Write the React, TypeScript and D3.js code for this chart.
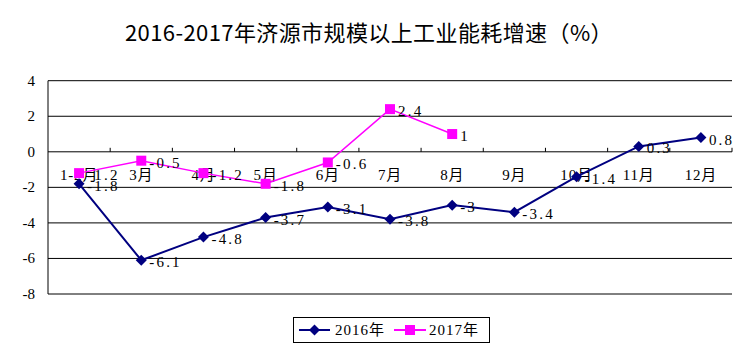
import * as d3 from "d3";

const months = ["1-2月", "3月", "4月", "5月", "6月", "7月", "8月", "9月", "10月", "11月", "12月"];
const values2016 = [-1.8, -6.1, -4.8, -3.7, -3.1, -3.8, -3, -3.4, -1.4, 0.3, 0.8];
const values2017 = [-1.2, -0.5, -1.2, -1.8, -0.6, 2.4, 1];
const yTicks = [4, 2, 0, -2, -4, -6, -8];

const W = 749;
const H = 353;
const MARGIN = { top: 80.7, right: 17, bottom: 59, left: 48 };
const NAVY = "#000080";
const MAGENTA = "#FF00FF";
const FONT = "'Liberation Serif', 'Noto Sans CJK SC', serif";

export default function App() {
  const boundsWidth = W - MARGIN.left - MARGIN.right;

  const xScale = d3
    .scaleBand()
    .domain(months)
    .range([MARGIN.left, MARGIN.left + boundsWidth]);

  const yScale = d3
    .scaleLinear()
    .domain([-8, 4])
    .range([H - MARGIN.bottom, MARGIN.top]);

  const cx = (m: string) => (xScale(m) as number) + xScale.bandwidth() / 2;

  const line = d3
    .line<number>()
    .x((_, i) => cx(months[i]))
    .y((d) => yScale(d));

  const diamond = (x: number, y: number, r: number) =>
    `M${x},${y - r}L${x + r},${y}L${x},${y + r}L${x - r},${y}Z`;

  const y0 = yScale(0);

  const label = (v: number, i: number, key: string) => (
    <text
      key={key}
      x={cx(months[i]) + 8}
      y={yScale(v) + 7}
      fontSize={15}
      fontFamily={FONT}
      letterSpacing={2.2}
    >
      {String(v)}
    </text>
  );

  return (
    <svg
      width={W}
      height={H}
      style={{ position: "absolute", left: 0, top: 0, background: "white" }}
    >
      <text
        x={369}
        y={41}
        textAnchor="middle"
        fontSize={22}
        letterSpacing={0.4}
        fontFamily="'Noto Sans CJK SC', sans-serif"
        fill="#000"
      >
        2016-2017年济源市规模以上工业能耗增速（%）
      </text>

      {/* grid */}
      {yTicks.map((t) => (
        <g key={t}>
          <line
            x1={MARGIN.left}
            x2={MARGIN.left + boundsWidth}
            y1={yScale(t)}
            y2={yScale(t)}
            stroke="#000"
            strokeWidth={1}
          />
          <text
            x={35}
            y={yScale(t) + 5}
            textAnchor="end"
            fontSize={15}
            fontFamily={FONT}
          >
            {t}
          </text>
        </g>
      ))}
      <line
        x1={MARGIN.left}
        x2={MARGIN.left}
        y1={yScale(4)}
        y2={yScale(-8)}
        stroke="#000"
      />

      {/* category axis at zero */}
      {months.map((m) => (
        <g key={m}>
          <line
            x1={(xScale(m) as number) + xScale.bandwidth()}
            x2={(xScale(m) as number) + xScale.bandwidth()}
            y1={y0}
            y2={y0 - 4}
            stroke="#000"
          />
          <text
            x={cx(m)}
            y={y0 + 28}
            textAnchor="middle"
            fontSize={15}
            letterSpacing={0.8}
            fontFamily={FONT}
          >
            {m}
          </text>
        </g>
      ))}

      {/* series */}
      <path d={line(values2016) ?? ""} fill="none" stroke={NAVY} strokeWidth={2} />
      <path d={line(values2017) ?? ""} fill="none" stroke={MAGENTA} strokeWidth={1.5} />

      {values2016.map((v, i) => (
        <path key={"a" + i} d={diamond(cx(months[i]), yScale(v), 5.5)} fill={NAVY} />
      ))}
      {values2017.map((v, i) => (
        <rect
          key={"b" + i}
          x={cx(months[i]) - 5}
          y={yScale(v) - 5}
          width={10}
          height={10}
          fill={MAGENTA}
        />
      ))}

      {values2016.map((v, i) => label(v, i, "la" + i))}
      {values2017.map((v, i) => label(v, i, "lb" + i))}

      {/* legend */}
      <rect x={293.5} y={317.5} width={196} height={25} fill="white" stroke="#000" />
      <line x1={299} x2={330} y1={330} y2={330} stroke={NAVY} strokeWidth={2} />
      <path d={diamond(314.5, 330, 5.5)} fill={NAVY} />
      <text x={335} y={335} fontSize={15} letterSpacing={1} fontFamily={FONT}>
        2016年
      </text>
      <line x1={394} x2={426} y1={330} y2={330} stroke={MAGENTA} strokeWidth={2} />
      <rect x={405} y={325} width={10} height={10} fill={MAGENTA} />
      <text x={429} y={335} fontSize={15} letterSpacing={1} fontFamily={FONT}>
        2017年
      </text>
    </svg>
  );
}
